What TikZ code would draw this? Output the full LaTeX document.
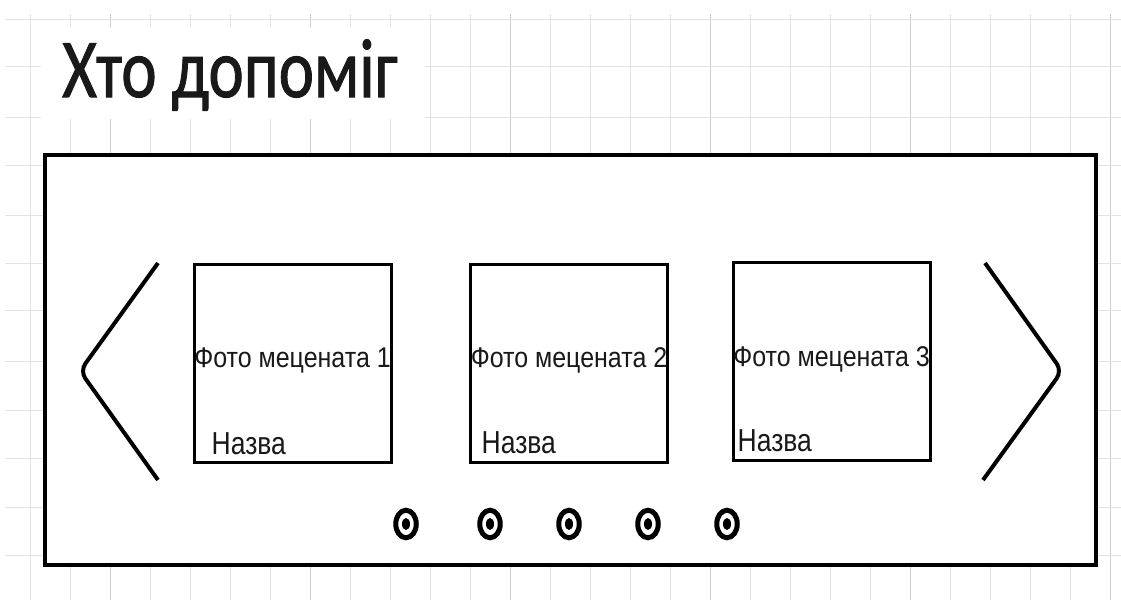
\documentclass[tikz,border=0pt]{standalone}
\usepackage{fontspec}
\setmainfont{Liberation Sans}
\newfontfamily\titlefont[FakeBold=1.2]{Carlito}
\usetikzlibrary{shapes.geometric, positioning, calc}
\colorlet{GridLine}{black!11}
\colorlet{GridMajor}{black!20}
\colorlet{FrameLine}{black}
\colorlet{LabelText}{black!90}

\begin{document}
\begin{tikzpicture}[
    x=1pt, y=-1pt,
    gridline/.style={draw=GridLine, line width=0.8pt},
    gridmajor/.style={draw=GridMajor, line width=0.9pt},
    slider/.style={
        rectangle, draw=FrameLine, line width=3.5pt, fill=white,
        minimum width=1051pt, minimum height=410pt, inner sep=0pt
    },
    photo/.style={
        rectangle, draw=FrameLine, line width=3pt, fill=white,
        minimum width=197pt, minimum height=198pt, inner sep=0pt
    },
    heading/.style={font=\titlefont\fontsize{67}{72}\selectfont, text=black!90,
                    inner sep=0pt, yscale=1.25, transform shape},
    photolbl/.style={font=\fontsize{25}{28}\selectfont, text=LabelText,
                     inner sep=0pt, yscale=1.14, transform shape},
    namelbl/.style={font=\fontsize{26.5}{30}\selectfont, text=LabelText,
                    inner sep=0pt, yscale=1.2, transform shape},
    chevron/.style={draw=FrameLine, line width=4pt, rounded corners=9pt},
    pager/.style={
        ellipse, draw=FrameLine, line width=5pt, fill=white,
        minimum width=20.5pt, minimum height=27.5pt, inner sep=0pt,
        path picture={\fill[FrameLine] (path picture bounding box.center)
            ellipse [x radius=4pt, y radius=6pt];}
    }
]
\useasboundingbox (0,0) rectangle (1121,600);

% ===================================================================
% BACKGROUND GRID
% ===================================================================
\foreach \gx in {0,...,27}
    \draw[gridline] ({30+40*\gx},14) -- ({30+40*\gx},600);
\foreach \gx in {110,310,510,710,910,1110}
    \draw[gridmajor] (\gx,14) -- (\gx,600);
\foreach \gy in {19,66,117,165,215,263,310,361,410,458,507,555}
    \draw[gridline] (5,\gy) -- (1121,\gy);

% ===================================================================
% HEADING
% ===================================================================
\fill[white] (41,27) rectangle (425,119);
\node[heading, anchor=base west] (title) at (62,97) {Хто допоміг};

% ===================================================================
% SLIDER FRAME
% ===================================================================
\node[slider] (frame) at (570.5,360) {};

% Photo cards
\node[photo] (photo1) at (292.5,363.5) {};
\node[photo] (photo2) at (569,363) {};
\node[photo] (photo3) at (831.5,361) {};

\node[photolbl, anchor=base] (caption1) at ($(photo1.center)+(0,4)$) {Фото мецената 1};
\node[photolbl, anchor=base] (caption2) at ($(photo2.center)+(0,4)$) {Фото мецената 2};
\node[photolbl, anchor=base] (caption3) at ($(photo3.center)+(0,5)$) {Фото мецената 3};

\node[namelbl, anchor=base west] (name1) at ($(photo1.south west)+(19,-10)$) {Назва};
\node[namelbl, anchor=base west] (name2) at ($(photo2.south west)+(12.5,-10)$) {Назва};
\node[namelbl, anchor=base west] (name3) at ($(photo3.south west)+(6,-10)$) {Назва};

% Arrows left / right
\draw[chevron] (158,263) -- (80,371) -- (158,480);
\draw[chevron] (985,263) -- (1062,371) -- (983,480);

% ===================================================================
% PAGER DOTS
% ===================================================================
\node[pager] (dot1) at (406,524) {};
\node[pager] (dot2) at (490,524) {};
\node[pager] (dot3) at (569,524) {};
\node[pager] (dot4) at (648,524) {};
\node[pager] (dot5) at (727,524) {};

\end{tikzpicture}
\end{document}
